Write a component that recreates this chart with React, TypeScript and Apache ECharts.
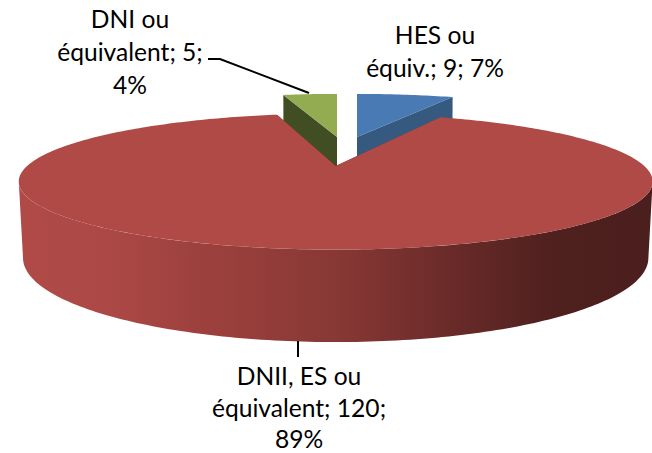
import React, { useEffect, useRef } from "react";
import * as echarts from "echarts";

const categories = ["HES ou équiv.", "DNII, ES ou équivalent", "DNI ou équivalent"];
const values = [9, 120, 5];
const percents = [7, 89, 4];
const labelTexts = [
  `HES ou\néquiv.; ${values[0]}; ${percents[0]}%`,
  `DNII, ES ou\néquivalent; ${values[1]};\n${percents[1]}%`,
  `DNI ou\néquivalent; ${values[2]};\n${percents[2]}%`,
];

const topColors = ["#4A7AB3", "#B04A47", "#93AC52"];
const cutColors = ["#35597F", "#7A2F2D", "#414D23"];
const originX = [357, 335.7, 337];
const explodeDepth = [0.5, 0, 0.5];
const stacking = [1, 3, 2];
const labelPos = [[435, 51], [299, 407], [130, 51]];
const labelStep = [33, 31.5, 33];
const leaders = [
  null,
  [[298, 341], [298, 357]],
  [[208, 59], [220, 59], [309, 93]],
];

const topPlane = { A: 308.6, B: 64.5, p: 0.228, oy: 166 };
const bottomPlane = { A: 305, B: 80, p: 0.22, oy: 239.5 };
const FONT = "24.6px Lato, Carlito, sans-serif";

const total = values.reduce((a, b) => a + b, 0);
const rad = (d: number) => (d * Math.PI) / 180;

function project(plane: any, x: number, y: number, ox: number, dy: number) {
  const yy = y + dy;
  const w = 1 + plane.p * yy;
  return [ox + (plane.A * x) / w, plane.oy - (plane.B * yy) / w];
}

function arc(plane: any, a0: number, a1: number, ox: number, dy: number) {
  const pts: number[][] = [];
  const n = Math.max(2, Math.ceil(Math.abs(a1 - a0) / 1));
  for (let i = 0; i <= n; i++) {
    const a = rad(a0 + ((a1 - a0) * i) / n);
    pts.push(project(plane, Math.sin(a), Math.cos(a), ox, dy));
  }
  return pts;
}

const wallGradient = () =>
  new echarts.graphic.LinearGradient(
    19, 0, 652, 0,
    [
      { offset: 0, color: "#AF4A47" },
      { offset: 0.13, color: "#AC4946" },
      { offset: 0.3, color: "#9C403D" },
      { offset: 0.5, color: "#883835" },
      { offset: 0.68, color: "#6A2B29" },
      { offset: 0.85, color: "#4E201E" },
      { offset: 1, color: "#4B1F1E" },
    ],
    true
  );

function renderSlice(params: any, api: any) {
  const i = params.dataIndex;
  const value = api.value(1);
  let before = 0;
  for (let k = 0; k < i; k++) before += values[k];
  const a0 = (before / total) * 360;
  const a1 = ((before + value) / total) * 360;
  const ox = originX[i];
  const dy = explodeDepth[i];
  const z = stacking[i];
  const children: any[] = [];

  [a0, a1].forEach((a) => {
    const r = rad(a);
    const x = Math.sin(r);
    const y = Math.cos(r);
    children.push({
      type: "polygon",
      z2: z,
      shape: {
        points: [
          project(topPlane, 0, 0, ox, dy),
          project(topPlane, x, y, ox, dy),
          project(bottomPlane, x, y, ox, dy),
          project(bottomPlane, 0, 0, ox, dy),
        ],
      },
      style: { fill: cutColors[i] },
    });
  });

  const w0 = Math.max(a0, 103);
  const w1 = Math.min(a1, 257);
  if (w1 > w0) {
    children.push({
      type: "polygon",
      z2: z,
      shape: {
        points: [...arc(topPlane, w0, w1, ox, dy), ...arc(bottomPlane, w1, w0, ox, dy)],
      },
      style: { fill: wallGradient() },
    });
  }

  children.push({
    type: "polygon",
    z2: z + 0.5,
    shape: { points: [project(topPlane, 0, 0, ox, dy), ...arc(topPlane, a0, a1, ox, dy)] },
    style: { fill: topColors[i] },
  });

  if (leaders[i]) {
    children.push({
      type: "polyline",
      z2: 10,
      shape: { points: leaders[i] },
      style: { stroke: "#000000", lineWidth: 2, fill: "none" },
    });
  }
  const lines = labelTexts[i].split("\n");
  lines.forEach((line, j) => {
    children.push({
      type: "text",
      z2: 11,
      x: labelPos[i][0],
      y: labelPos[i][1] + (j - (lines.length - 1) / 2) * labelStep[i],
      style: {
        text: line,
        font: FONT,
        fill: "#000000",
        align: "center",
        verticalAlign: "middle",
        lineHeight: 20,
      },
    });
  });
  return { type: "group", children };
}

export default function App() {
  const ref = useRef<HTMLDivElement>(null);
  useEffect(() => {
    const chart = echarts.init(ref.current!, null, { renderer: "svg" });
    chart.setOption({
      animation: false,
      backgroundColor: "#FFFFFF",
      series: [
        {
          type: "custom",
          coordinateSystem: "none",
          clip: false,
          name: "Formation",
          data: values.map((v, i) => ({ name: categories[i], value: [i, v] })),
          renderItem: renderSlice,
        },
      ],
    });
    return () => chart.dispose();
  }, []);
  return (
    <div
      ref={ref}
      style={{ position: "absolute", left: 0, top: 0, width: 652, height: 453 }}
    />
  );
}
